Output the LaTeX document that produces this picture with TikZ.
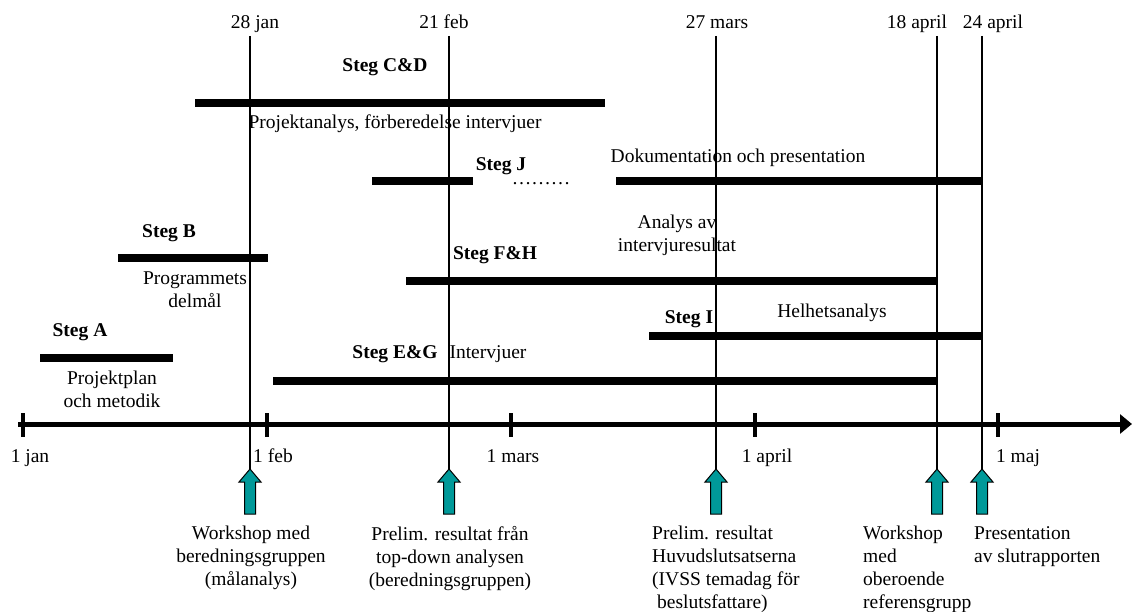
\documentclass[tikz,border=0pt]{standalone}
\usepackage{fontspec}
\setmainfont{Liberation Serif}
\usetikzlibrary{arrows.meta}
\definecolor{milestoneteal}{RGB}{0,153,153}
\newcommand{\chartfont}{\fontsize{19.5}{23}\selectfont}

\begin{document}
\begin{tikzpicture}[x=1pt,y=-1pt,
    every node/.style={font=\chartfont, inner sep=0pt},
    steglabel/.style={font=\chartfont\bfseries, anchor=base},
    phasebar/.style={line width=8pt},
    dateline/.style={line width=2pt},
    timeaxis/.style={line width=5pt, -{Triangle[length=12pt,width=19pt]}},
    monthtick/.style={line width=4pt},
    milestone/.style={draw=black, line width=1pt, fill=milestoneteal}]
  \useasboundingbox (0,0) rectangle (1133,612);

  % Drawing time axis
  \coordinate (axisstart) at (18,424);
  \coordinate (axisend) at (1132,424);
  \draw [timeaxis] (axisstart) -- (axisend);

  % Marking months by ticks
  \foreach \x/\mname/\lx in {23/1 jan/30, 267/1 feb/273, 511/1 mars/513, 755/1 april/767, 998/1 maj/1018} {
    \draw [monthtick] (\x,413) -- (\x,437);
    \node (month\x) [anchor=base] at (\lx,462) {\mname};
  }

  % Drawing phase bars
  \draw [phasebar] (40,358) -- (173,358);   % Steg A
  \draw [phasebar] (118,258) -- (268,258);  % Steg B
  \draw [phasebar] (195,103) -- (605,103);  % Steg C&D
  \draw [phasebar] (372,181) -- (473,181);  % Steg J, first part
  \draw [phasebar] (616,181) -- (982,181);  % Steg J, second part
  \draw [phasebar] (406,281) -- (937,281);  % Steg F&H
  \draw [phasebar] (649,336) -- (982,336);  % Steg I
  \draw [phasebar] (273,381) -- (937,381);  % Steg E&G

  % Marking phase names
  \node (stegA) [steglabel] at (80,337) {Steg A};
  \node (stegB) [steglabel] at (169,238) {Steg B};
  \node (stegCD) [steglabel] at (385,72) {Steg C\&D};
  \node (stegJ) [steglabel] at (501,171) {Steg J};
  \node (stegFH) [steglabel] at (495,260) {Steg F\&H};
  \node (stegI) [steglabel] at (689,324) {Steg I};
  \node (stegEG) [steglabel] at (395,359) {Steg E\&G};

  % Marking phase descriptions
  \node (descA) [anchor=north, align=center] at (112,371) {Projektplan\\och metodik};
  \node (descB) [anchor=north, align=center] at (195,272) {Programmets\\delmål};
  \node (descCD) [anchor=base] at (395,129) {Projektanalys, förberedelse intervjuer};
  \node (descJ) [anchor=base] at (738,163) {Dokumentation och presentation};
  \node (dotsJ) [anchor=base] at (541,185) {………};
  \node (descFH) [anchor=north, align=center] at (677,215) {Analys av\\intervjuresultat};
  \node (descI) [anchor=base] at (832,318) {Helhetsanalys};
  \node (descEG) [anchor=base] at (488,359) {Intervjuer};

  % Marking milestones by date lines and arrows
  \foreach \x/\dname/\dx in {250/28 jan/255, 449/21 feb/444, 716/27 mars/717, 937/18 april/917, 982/24 april/993} {
    \node (date\x) [anchor=base] at (\dx,29) {\dname};
    \coordinate (top\x) at (\x,36);
    \coordinate (tip\x) at (\x,469);
    \draw [milestone] (tip\x) -- ++(11,13) -- ++(-5.5,0) -- ++(0,32) -- ++(-11,0) -- ++(0,-32) -- ++(-5.5,0) -- cycle;
    \draw [dateline] (top\x) -- (tip\x);
  }

  % Marking milestone texts
  \node (textjan) [anchor=north, align=center] at (251,526) {Workshop med\\beredningsgruppen\\(målanalys)};
  \node (textfeb) [anchor=north, align=center] at (450,526) {Prelim. resultat från\\top-down analysen\\(beredningsgruppen)};
  \node (textmar) [anchor=north west, align=left] at (652,526) {Prelim. resultat\\Huvudslutsatserna\\(IVSS temadag för\\\hspace*{5pt}beslutsfattare)};
  \node (textapr) [anchor=north west, align=left] at (863,526) {Workshop\\med\\oberoende\\referensgrupp};
  \node (textmaj) [anchor=north west, align=left] at (974,526) {Presentation\\av slutrapporten};
\end{tikzpicture}
\end{document}
